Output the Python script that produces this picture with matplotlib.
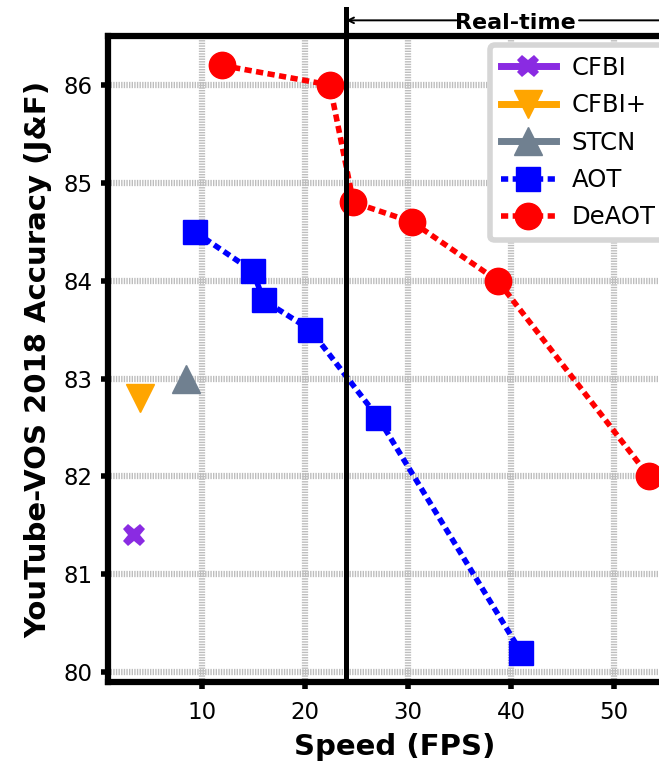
import numpy as np
import matplotlib
matplotlib.use("Agg")
import matplotlib.pyplot as plt

# speed (FPS) and YouTube-VOS 2018 J&F
cfbiSpeed=[3.4]
cfbiAcc=[81.4]
cfbiPlusSpeed=[4.0]
cfbiPlusAcc=[82.8]
stcnSpeed=[8.4]
stcnAcc=[83.0]
aotSpeed=[9.3,14.9,16.0,20.5,27.1,41.0]
aotAcc=[84.5,84.1,83.8,83.5,82.6,80.2]
deaotSpeed=[11.9,22.4,24.7,30.4,38.7,53.4]
deaotAcc=[86.2,86.0,84.8,84.6,84.0,82.0]
realTimeFps=24

xTicks=[10,20,30,40,50]
yTicks=[80,81,82,83,84,85,86]

plt.rcParams['font.family']=['DejaVu Sans']

fig=plt.figure(figsize=(6.59,7.62),dpi=100)
ax=fig.add_axes([108/659,80/762,573/659,646/762])

dots=(0,(1.3,0.8))

ax.plot(cfbiSpeed,cfbiAcc,color='#8a2be2',marker='X',markersize=16,markeredgewidth=0,lw=5,label='CFBI',zorder=4)
ax.plot(cfbiPlusSpeed,cfbiPlusAcc,color='#ffa500',marker='v',markersize=20,lw=5,label='CFBI+',zorder=4)
ax.plot(stcnSpeed,stcnAcc,color='#708090',marker='^',markersize=20,lw=5,label='STCN',zorder=4)
ax.plot(aotSpeed,aotAcc,color='#0000ff',marker='s',markersize=17,lw=4,linestyle=dots,label='AOT',zorder=4)
ax.plot(deaotSpeed,deaotAcc,color='#ff0000',marker='o',markersize=19,lw=4,linestyle=dots,label='DeAOT',zorder=4)

#real-time boundary, goes above the frame
ax.plot([realTimeFps,realTimeFps],[79.9,86.78],color='black',lw=3.6,clip_on=False,zorder=6)
ax.annotate('',xy=(realTimeFps,86.66),xytext=(34.7,86.66),
            arrowprops=dict(arrowstyle='->',lw=1.4,color='black',shrinkA=0,shrinkB=0),
            annotation_clip=False)
ax.annotate('',xy=(70,86.66),xytext=(46.6,86.66),
            arrowprops=dict(arrowstyle='-',lw=1.4,color='black',shrinkA=0,shrinkB=0),
            annotation_clip=False)
ax.text(40.4,86.63,'Real-time',ha='center',va='center',fontsize=16,fontweight='bold')

ax.set_xlim(0.87,56.5)
ax.set_ylim(79.9,86.5)
ax.set_xticks(xTicks)
ax.set_yticks(yTicks)

ax.grid(True,color='#bdbdbd',lw=4.5,linestyle=(0,(0.22,0.2)),zorder=0)
ax.set_axisbelow(True)

for s in ax.spines.values():
    s.set_linewidth(4.5)
ax.tick_params(axis='both',direction='out',length=5,width=4,labelsize=16.5,pad=6)
ax.tick_params(axis='x',pad=9)

ax.set_xlabel('Speed (FPS)',fontsize=21,fontweight='bold',labelpad=6)
ax.set_ylabel('YouTube-VOS 2018 Accuracy (J&F)',fontsize=21,fontweight='bold',labelpad=8)

leg=ax.legend(loc='upper left',bbox_to_anchor=(0.667,0.986),borderaxespad=0,
              fontsize=17.5,handlelength=2.25,handletextpad=0.65,labelspacing=0.55,
              framealpha=1,fancybox=True,borderpad=0.45)
leg.get_frame().set_edgecolor('#d6d6d6')
leg.get_frame().set_linewidth(4)
leg.set_zorder(7)

fig.savefig('out.png',dpi=100)
